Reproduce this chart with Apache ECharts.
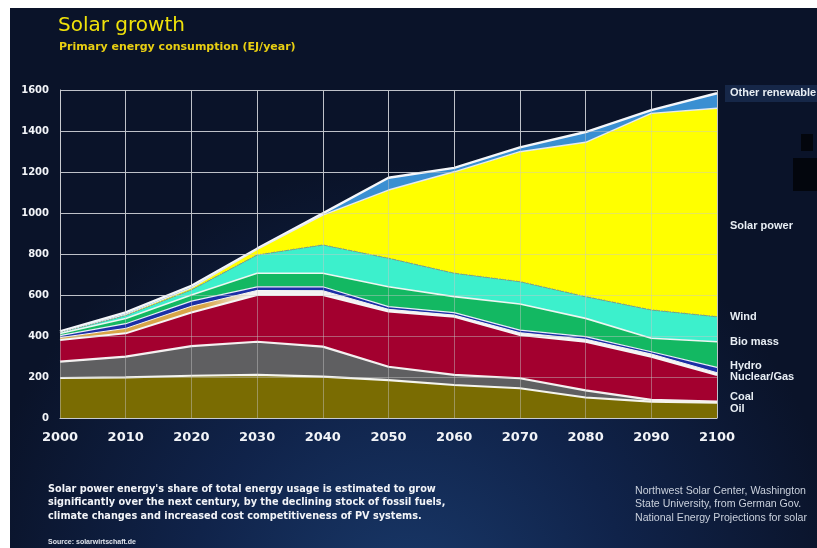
<!DOCTYPE html>
<html>
<head>
<meta charset="utf-8">
<script src="https://cdn.jsdelivr.net/npm/echarts@6/dist/echarts.min.js"></script>
<style>
html,body{margin:0;padding:0;background:#ffffff;}
#chart{width:817px;height:548px;}
</style>
</head>
<body>
<div id="chart"></div>
<script>
// ---- data (EJ/year, stacked layers, bottom to top) ----
const years = ['2000','2010','2020','2030','2040','2050','2060','2070','2080','2090','2100'];
const oil            = [195, 198, 206, 210, 202, 185, 161, 145, 100,  80,   75];
const coal           = [ 80, 101, 145, 162, 146,  65,  49,  49,  35,   8,    5];
const nuclearGas     = [105, 114, 164, 228, 252, 269, 284, 211, 237, 211,  130];
const geothermal     = [ 12,  24,  30,  22,  21,  11,   8,  11,  12,  13,   11];
const hydro          = [ 10,  23,  25,  18,  19,  13,  12,  13,  13,  11,   26];
const bioMass        = [ 10,  25,  30,  66,  66,  97,  78, 127,  89,  66,  125];
const wind           = [  4,  15,  25,  89, 138, 139, 114, 109, 106, 138,  122];
const solarPower     = [  2,   5,  10,  27, 146, 333, 495, 634, 753, 959, 1017];
const otherRenewable = [  4,  10,  10,   4,   8,  60,  19,  21,  50,  16,   73];
const yTicks = [0, 200, 400, 600, 800, 1000, 1200, 1400, 1600];
const layerNames = ['Oil','Coal','Nuclear/Gas','Geothermal','Hydro','Bio mass','Wind','Solar power','Other renewable'];
const layerData = [oil, coal, nuclearGas, geothermal, hydro, bioMass, wind, solarPower, otherRenewable];

const fills = [
  '#7a6c02', '#5f5f61', '#a3002f',
  {type:'linear',x:0,y:0,x2:1,y2:0,colorStops:[
    {offset:0,color:'#d8a548'},{offset:0.22,color:'#d8a548'},
    {offset:0.29,color:'#f2f2f2'},{offset:1,color:'#f2f2f2'}]},
  '#1b2fa6', '#13b862', '#3cf0cc', '#ffff00', '#3a8fd2'
];
const lines = [
  {color:'#f4f4ee',width:2.2},
  {color:'#f4f0f0',width:2.2},
  {color:'#f6f6f6',width:2},
  {color:'#f6f6f6',width:1},
  {color:'#e8eef8',width:1.2},
  {color:'#eef6f2',width:1.6},
  {color:'#8f9c98',width:1.4,type:'dotted'},
  {color:'#e6ebf0',width:1.4},
  {color:'#f5f7fa',width:2.4}
];

const series = layerNames.map((name, i) => ({
  name: name,
  type: 'line',
  stack: 'energy',
  data: layerData[i],
  symbol: 'none',
  smooth: false,
  z: 11 - i,
  lineStyle: lines[i],
  areaStyle: {color: fills[i], opacity: 1},
  emphasis: {disabled: true}
}));

const chart = echarts.init(document.getElementById('chart'), null, {renderer:'canvas'});

const labelFont = 'bold 11px "Liberation Sans", Arial, sans-serif';
function rtext(t, y){
  return {type:'text', z:100, style:{text:t, x:730, y:y, fill:'#e8eef4', font:labelFont, textVerticalAlign:'middle'}};
}

const option = {
  animation: false,
  backgroundColor: {
    type:'radial', x:0.5, y:1.1, r:0.8,
    colorStops:[{offset:0,color:'#19396a'},{offset:0.5,color:'#10234a'},{offset:1,color:'#0a1329'}]
  },
  grid: {left:60, right:100, top:90, bottom:130, containLabel:false},
  xAxis: [{
    type:'category', data: years, boundaryGap:false,
    axisLine:{show:true, lineStyle:{color:'#c9cdd6', width:1}},
    axisTick:{show:false},
    axisLabel:{color:'#f2f4f8', fontFamily:'"DejaVu Sans", sans-serif', fontWeight:'bold', fontSize:13, margin:13},
    splitLine:{show:true, lineStyle:{color:'#b7bcc8', width:1}}
  },{
    type:'category', data: years, boundaryGap:false, z:20,
    axisLine:{show:false}, axisTick:{show:false}, axisLabel:{show:false},
    splitLine:{show:true, lineStyle:{color:'rgba(200,200,200,0.45)', width:1}}
  }],
  yAxis: [{
    type:'value', min:0, max:1600, interval:200,
    axisLine:{show:true, lineStyle:{color:'#c9cdd6', width:1}},
    axisTick:{show:false},
    axisLabel:{color:'#f2f4f8', fontFamily:'"DejaVu Sans", sans-serif', fontWeight:'bold', fontSize:10, margin:11,
      formatter: v => yTicks.indexOf(v) >= 0 ? String(v) : ''},
    splitLine:{show:true, lineStyle:{color:'#b7bcc8', width:1}}
  },{
    type:'value', min:0, max:1600, interval:200, z:20,
    axisLine:{show:false}, axisTick:{show:false}, axisLabel:{show:false},
    splitLine:{show:true, lineStyle:{color:'rgba(200,200,200,0.45)', width:1}}
  }],
  series: series,
  graphic: [
    // white frame at top and left
    {type:'rect', z:200, shape:{x:0,y:0,width:817,height:8}, style:{fill:'#ffffff'}},
    {type:'rect', z:200, shape:{x:0,y:0,width:10,height:548}, style:{fill:'#ffffff'}},
    // black blocks at right
    {type:'rect', z:100, shape:{x:801,y:134,width:12,height:17}, style:{fill:'#03060d'}},
    {type:'rect', z:100, shape:{x:793,y:158,width:24,height:33}, style:{fill:'#03060d'}},
    // titles
    {type:'text', z:100, style:{text:'Solar growth', x:58, y:26, fill:'#f0e20a',
      font:'20px "DejaVu Sans", sans-serif', textVerticalAlign:'middle'}},
    {type:'text', z:100, style:{text:'Primary energy consumption (EJ/year)', x:59, y:47, fill:'#e9cf12',
      font:'bold 11px "DejaVu Sans", sans-serif', textVerticalAlign:'middle'}},
    // right-hand layer labels
    {type:'rect', z:99, shape:{x:725,y:85,width:92,height:17}, style:{fill:'#162748'}},
    rtext('Other renewable', 93),
    rtext('Solar power', 226),
    rtext('Wind', 317),
    rtext('Bio mass', 342),
    rtext('Hydro', 366),
    rtext('Nuclear/Gas', 377),
    rtext('Coal', 397),
    rtext('Oil', 409),
    // footnotes
    {type:'text', z:100, style:{
      text:"Solar power energy's share of total energy usage is estimated to grow\nsignificantly over the next century, by the declining stock of fossil fuels,\nclimate changes and increased cost competitiveness of PV systems.",
      x:48, y:482, fill:'#f2f4f8', lineHeight:13.5,
      font:'bold 10.8px "Liberation Sans Narrow", "DejaVu Sans Condensed", "Liberation Sans", sans-serif'}},
    {type:'text', z:100, style:{
      text:'Northwest Solar Center, Washington\nState University, from German Gov.\nNational Energy Projections for solar',
      x:635, y:484, fill:'#c9d0dc', lineHeight:13.5,
      font:'10.6px "Liberation Sans", Arial, sans-serif'}},
    {type:'text', z:100, style:{text:'Source: solarwirtschaft.de', x:48, y:542, fill:'#dfe4ec',
      font:'bold 7px "Liberation Sans", Arial, sans-serif', textVerticalAlign:'middle'}}
  ]
};
chart.setOption(option);
</script>
</body>
</html>
